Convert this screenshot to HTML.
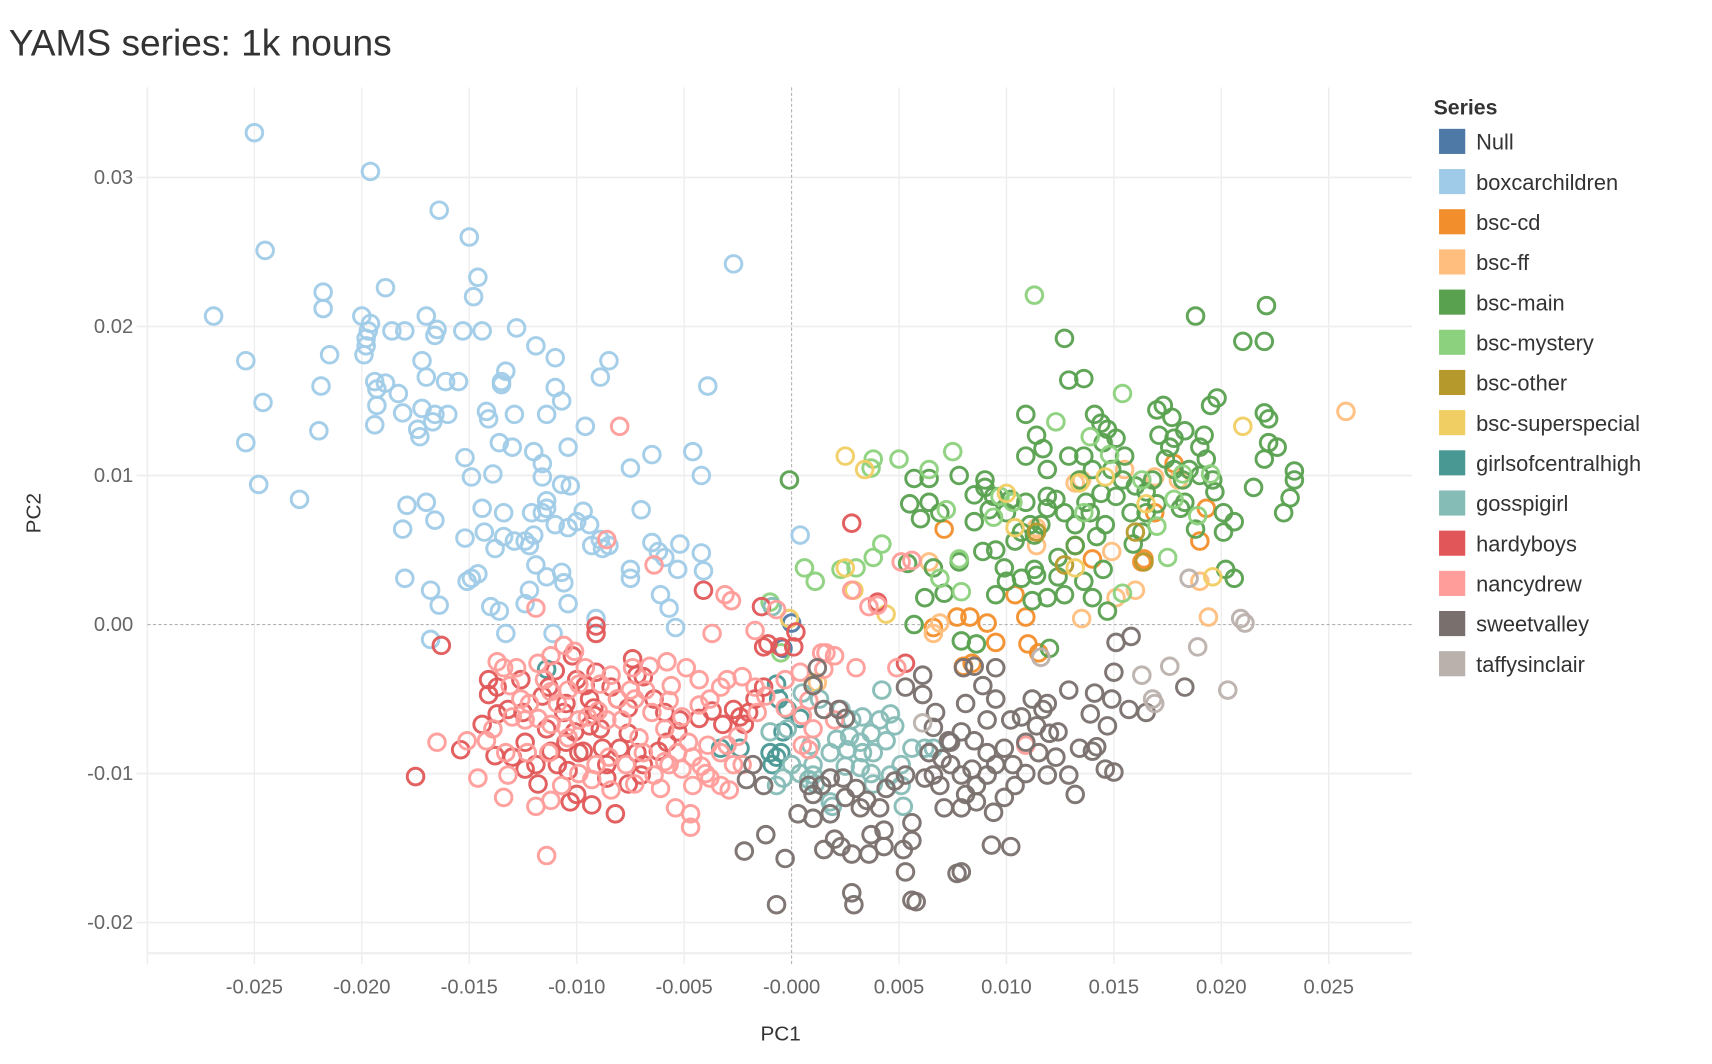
<!DOCTYPE html>
<html><head><meta charset="utf-8">
<style>
html,body{margin:0;padding:0;background:#fff;}
svg{display:block;}
text{font-family:"Liberation Sans",sans-serif;}
</style></head>
<body>
<svg id="chart" width="1712" height="1064" viewBox="0 0 1568 974.5" preserveAspectRatio="none" xmlns="http://www.w3.org/2000/svg">
<text x="8" y="51" font-size="34" fill="#333">YAMS series: 1k nouns</text>
<g id="grid"></g>
<g id="marks"></g>
<g id="axes"></g>
<text x="715" y="953" font-size="19" fill="#333" text-anchor="middle">PC1</text>
<text transform="translate(37,470) rotate(-90)" font-size="19" fill="#333" text-anchor="middle">PC2</text>
<g id="legend"></g>
</svg>
<script>
const UNIT = 1e-4;
const xTicks = [-0.025,-0.020,-0.015,-0.010,-0.005,0,0.005,0.010,0.015,0.020,0.025];
const xTickLabels = ["-0.025","-0.020","-0.015","-0.010","-0.005","-0.000","0.005","0.010","0.015","0.020","0.025"];
const yTicks = [0.03,0.02,0.01,0,-0.01,-0.02];
const yTickLabels = ["0.03","0.02","0.01","0.00","-0.01","-0.02"];
const seriesNames = ["Null","boxcarchildren","bsc-cd","bsc-ff","bsc-main","bsc-mystery","bsc-other","bsc-superspecial","girlsofcentralhigh","gosspigirl","hardyboys","nancydrew","sweetvalley","taffysinclair"];
const seriesColors = ["#4e79a7","#a0cbe8","#f28e2b","#ffbe7d","#59a14f","#8cd17d","#b6992d","#f1ce63","#499894","#86bcb6","#e15759","#ff9d9a","#79706e","#bab0ac"];

const nullPts = [[0,1],[-4,-16]];
const boxcarPts = [[-250,330],[-196,304],[-164,278],[-245,251],[-150,260],[-146,233],[-148,220],[-218,223],[-218,212],[-189,226],[-269,207],[-200,207],[-196,202],[-197,197],[-198,192],[-198,187],[-186,197],[-180,197],[-170,207],[-165,198],[-166,194],[-153,197],[-144,197],[-128,199],[-119,187],[-254,177],[-246,149],[-254,122],[-248,94],[-229,84],[-220,130],[-219,160],[-215,181],[-199,181],[-194,163],[-193,158],[-189,162],[-193,147],[-194,134],[-183,155],[-181,142],[-174,131],[-172,145],[-172,177],[-170,166],[-173,126],[-166,141],[-167,136],[-161,163],[-155,163],[-160,141],[-142,143],[-141,138],[-135,163],[-133,170],[-135,161],[-129,141],[-152,112],[-149,99],[-139,101],[-136,122],[-130,119],[-120,116],[-116,108],[-116,99],[-114,83],[-110,179],[-110,159],[-107,150],[-114,141],[-104,119],[-96,133],[-89,166],[-85,177],[-75,105],[-65,114],[-42,100],[-46,116],[-39,160],[-27,242],[4,60],[-179,80],[-170,82],[-181,64],[-166,70],[-180,31],[-168,23],[-164,13],[-168,-10],[-152,58],[-151,29],[-144,78],[-143,62],[-138,51],[-134,59],[-129,56],[-124,56],[-120,60],[-122,53],[-119,40],[-114,32],[-107,35],[-106,28],[-104,14],[-93,53],[-89,57],[-88,51],[-100,69],[-97,76],[-94,67],[-85,53],[-75,37],[-75,31],[-70,77],[-65,55],[-62,49],[-59,45],[-52,54],[-61,20],[-57,11],[-54,-2],[-42,48],[-41,36],[-103,93],[-107,94],[-114,78],[-110,67],[-121,75],[-134,75],[-140,12],[-136,9],[-124,14],[-122,23],[-111,-6],[-133,-6],[-116,75],[-104,65],[-91,4],[-149,31],[-146,34],[-53,37]];
const bscCdPts = [[71,64],[77,5],[83,5],[91,1],[80,-28],[84,-26],[95,-12],[104,20],[109,5],[110,-13],[115,-19],[132,53],[140,44],[164,44],[163,42],[190,56],[193,78],[178,108],[169,75],[66,-2]];
const bscFfPts = [[258,143],[194,5],[190,29],[160,23],[151,18],[135,4],[132,95],[149,49],[155,104],[114,53],[169,99],[64,42],[69,1],[66,-6],[114,65],[135,97],[180,97],[12,-39]];
const bscMainPts = [[-1,97],[57,98],[64,98],[55,81],[64,82],[60,71],[69,75],[78,100],[85,69],[78,42],[66,38],[54,41],[62,18],[71,21],[85,87],[90,97],[90,92],[94,86],[92,77],[89,49],[95,50],[95,20],[100,29],[104,56],[107,62],[109,113],[109,141],[114,127],[117,118],[119,104],[119,86],[119,78],[116,67],[113,60],[113,37],[114,33],[112,16],[119,18],[124,32],[127,20],[124,45],[132,53],[132,67],[127,75],[123,84],[129,113],[136,113],[137,82],[139,75],[141,141],[144,135],[147,131],[145,122],[151,125],[155,113],[154,97],[151,86],[160,93],[165,89],[168,97],[171,127],[170,144],[173,147],[176,119],[178,104],[182,97],[181,78],[185,104],[190,100],[193,111],[196,97],[198,152],[195,147],[192,127],[190,119],[206,69],[201,62],[202,37],[206,31],[215,92],[220,111],[222,122],[222,138],[220,142],[229,75],[234,97],[234,103],[232,85],[226,119],[220,190],[221,214],[188,207],[210,190],[127,192],[129,164],[136,165],[159,54],[163,62],[165,75],[170,81],[158,75],[146,67],[142,59],[145,37],[136,29],[140,18],[147,9],[120,-16],[86,-13],[79,-11],[57,0],[100,75],[102,84],[109,82],[111,67],[99,38],[107,31],[134,97],[140,104],[144,88],[149,104],[183,130],[174,111],[177,139],[178,125],[188,64],[183,82],[197,89],[201,75]];
const bscMysteryPts = [[113,221],[154,155],[38,111],[37,105],[50,111],[42,54],[38,45],[23,37],[30,38],[6,38],[11,29],[-10,15],[-5,-19],[64,104],[72,77],[75,116],[94,72],[103,82],[97,86],[78,44],[69,31],[79,22],[139,126],[148,114],[170,66],[178,84],[182,101],[123,136],[136,75],[175,45],[195,101],[154,21],[163,97],[189,73]];
const bscOtherPts = [[160,62],[164,42],[114,62],[127,40]];
const bscSuperPts = [[25,113],[34,104],[25,38],[29,23],[44,7],[-1,4],[10,-39],[210,133],[146,99],[134,95],[100,88],[104,65],[196,32],[132,38],[165,81]];
const gochPts = [[-114,-30],[-7,-40],[-6,-50],[-2,-57],[4,-63],[-4,-72],[-5,-86],[-7,-89],[-10,-86],[-24,-83],[-33,-83],[-9,-94]];
const gossPts = [[5,-46],[13,-50],[23,-57],[28,-64],[33,-62],[41,-64],[42,-44],[46,-60],[48,-68],[44,-78],[37,-73],[33,-86],[26,-84],[25,-95],[32,-96],[37,-100],[38,-107],[46,-101],[51,-108],[52,-122],[56,-83],[62,-83],[66,-83],[18,-119],[19,-122],[8,-104],[4,-100],[10,-94],[10,-101],[11,-107],[21,-77],[27,-75],[18,-86],[-2,-70],[-10,-72],[0,-94],[-4,-103],[-7,-108],[38,-86],[32,-79],[-9,12],[9,-81],[51,-94]];
const hardyPts = [[-163,-14],[-175,-102],[-154,-84],[-141,-47],[-141,-37],[-126,-37],[-132,-57],[-125,-59],[-116,-48],[-113,-42],[-105,-53],[-100,-37],[-96,-41],[-94,-50],[-92,-61],[-94,-68],[-101,-72],[-105,-79],[-112,-85],[-109,-94],[-104,-98],[-100,-114],[-93,-121],[-103,-119],[-82,-127],[-89,-70],[-88,-83],[-86,-94],[-80,-83],[-76,-73],[-72,-86],[-69,-94],[-62,-85],[-58,-79],[-53,-72],[-52,-64],[-43,-63],[-24,-62],[-22,-67],[-20,-59],[-17,-50],[-13,-42],[-13,-15],[-5,-15],[1,-15],[2,-5],[-14,12],[-41,23],[-91,-1],[-91,-6],[-91,-32],[-69,-35],[-64,-50],[-59,-59],[-130,-89],[-119,-94],[-138,-88],[-124,-79],[-137,-60],[-102,-21],[-81,-50],[-76,-56],[-84,-42],[-92,-56],[28,68],[40,15],[53,-26],[-37,-58],[-11,-13],[-32,-67],[-27,-57],[-74,-23],[-72,-34],[-110,-31],[-106,-59],[-137,-42],[-144,-67],[-114,-70],[-97,-85],[-86,-103],[-76,-107],[-118,-107],[-124,-97],[-70,-101],[-99,-86]];
const nancyPts = [[-80,133],[-86,57],[-64,40],[-31,20],[-28,16],[-17,-4],[-7,10],[16,-19],[20,-21],[30,-29],[49,-29],[36,12],[28,23],[40,13],[-37,-6],[-119,11],[-151,-78],[-165,-79],[-137,-25],[-134,-29],[-128,-29],[-118,-26],[-112,-21],[-106,-14],[-101,-18],[-96,-29],[-84,-34],[-74,-29],[-66,-28],[-58,-25],[-49,-29],[-43,-37],[-33,-42],[-30,-37],[-23,-35],[-17,-42],[-3,-37],[4,-32],[14,-19],[15,-30],[8,-51],[5,-61],[5,-81],[8,-84],[10,-70],[20,-64],[22,-57],[109,-81],[51,42],[56,43],[-146,-103],[-134,-116],[-132,-101],[-119,-122],[-112,-118],[-107,-108],[-114,-155],[-93,-104],[-84,-111],[-73,-107],[-64,-101],[-54,-123],[-47,-127],[-47,-136],[-61,-110],[-57,-94],[-51,-97],[-42,-95],[-38,-103],[-33,-108],[-29,-111],[-27,-94],[-30,-81],[-39,-81],[-48,-79],[-53,-86],[-59,-92],[-69,-86],[-71,-76],[-79,-64],[-86,-64],[-90,-58],[-99,-64],[-105,-69],[-112,-67],[-118,-63],[-124,-64],[-130,-62],[-139,-70],[-142,-78],[-133,-86],[-123,-86],[-113,-86],[-109,-53],[-104,-44],[-115,-37],[-122,-53],[-65,-59],[-57,-51],[-51,-62],[-43,-54],[-38,-50],[-68,-44],[-75,-44],[-81,-50],[-89,-40],[-99,-40],[-112,-45],[-126,-50],[-131,-41],[-56,-41],[-12,-48],[-3,-56],[-16,-59],[-25,-75],[-33,-86],[-40,-100],[-46,-108],[-85,-89],[-91,-94],[-99,-100],[-104,-76],[-95,-62],[-77,-94],[-73,-50],[-59,-70],[-23,-94],[-46,-89]];
const sweetPts = [[12,-29],[10,-41],[15,-57],[22,-57],[25,-63],[53,-42],[61,-34],[61,-47],[67,-59],[66,-69],[80,-29],[85,-28],[95,-29],[89,-41],[81,-53],[95,-50],[91,-64],[102,-64],[107,-62],[117,-57],[119,-53],[129,-44],[139,-60],[141,-46],[149,-50],[150,-32],[151,-12],[158,-8],[147,-68],[142,-82],[146,-97],[150,-99],[129,-101],[123,-89],[120,-73],[114,-68],[109,-79],[103,-94],[99,-83],[95,-94],[91,-101],[86,-108],[81,-114],[79,-101],[74,-79],[79,-72],[85,-78],[91,-86],[86,-119],[79,-123],[71,-123],[69,-108],[62,-103],[53,-101],[48,-105],[44,-110],[41,-123],[43,-138],[43,-149],[37,-141],[35,-118],[30,-110],[24,-103],[18,-103],[14,-108],[10,-114],[18,-127],[10,-130],[15,-151],[23,-149],[28,-154],[36,-154],[52,-151],[56,-133],[53,-166],[28,-180],[29,-188],[56,-185],[58,-186],[77,-167],[79,-166],[-3,-157],[-7,-188],[-12,-141],[-22,-152],[-21,-104],[-18,-94],[-13,-108],[3,-127],[8,-108],[20,-144],[25,-116],[32,-123],[56,-145],[73,-78],[84,-97],[94,-126],[93,-148],[102,-149],[99,-116],[104,-108],[109,-100],[115,-86],[119,-101],[132,-114],[134,-83],[124,-72],[157,-57],[165,-59],[183,-42],[140,-85],[112,-50],[74,-94],[66,-101],[64,-86],[70,-90]];
const taffyPts = [[61,-66],[163,-34],[168,-50],[169,-53],[176,-28],[185,31],[189,-15],[203,-44],[209,4],[211,1],[116,-22]];
const seriesPoints = [nullPts,boxcarPts,bscCdPts,bscFfPts,bscMainPts,bscMysteryPts,bscOtherPts,bscSuperPts,gochPts,gossPts,hardyPts,nancyPts,sweetPts,taffyPts];

const NS = "http://www.w3.org/2000/svg";
const PLOT = {left:135, right:1293, top:80, bottom:873};
function xScale(v){ return 725 + v*19680; }
function yScale(v){ return 572 - v*13650; }
function mk(tag, attrs, parent){ const e=document.createElementNS(NS,tag); for(const k in attrs) e.setAttribute(k,attrs[k]); parent.appendChild(e); return e; }

const grid=document.getElementById('grid'), axes=document.getElementById('axes'), marks=document.getElementById('marks'), legend=document.getElementById('legend');
let gl=mk('line',{x1:PLOT.left,x2:PLOT.left,y1:PLOT.top,y2:PLOT.bottom+10,stroke:'#eeeeee','stroke-width':1.5},grid);
 
gl=mk('line',{x1:PLOT.left,x2:PLOT.right,y1:PLOT.bottom,y2:PLOT.bottom,stroke:'#eeeeee','stroke-width':2},grid);
 
xTicks.forEach((t,i)=>{
  const x=xScale(t);
  if(t!==0){
    const l=mk('line',{x1:x,x2:x,y1:PLOT.top,y2:PLOT.bottom+10,stroke:'#eeeeee','stroke-width':1.3},grid);
     
  }
  const tx=mk('text',{x:x,y:910,'font-size':18.5,fill:'#666','text-anchor':'middle'},axes);
  tx.textContent=xTickLabels[i];
   
});
yTicks.forEach((t,i)=>{
  const y=yScale(t);
  if(t!==0){
    const l=mk('line',{x1:PLOT.left-10,x2:PLOT.right,y1:y,y2:y,stroke:'#eeeeee','stroke-width':1.5},grid);
     
  }
  const tx=mk('text',{x:122,y:y+6,'font-size':18.5,fill:'#666','text-anchor':'end'},axes);
  tx.textContent=yTickLabels[i];
   
});
let z=mk('line',{x1:xScale(0),x2:xScale(0),y1:PLOT.top,y2:PLOT.bottom+10,stroke:'#b5b5b5','stroke-width':1,'stroke-dasharray':'3,2'},grid);
 
z=mk('line',{x1:PLOT.left,x2:PLOT.right,y1:yScale(0),y2:yScale(0),stroke:'#b5b5b5','stroke-width':1,'stroke-dasharray':'3,2'},grid);
 

seriesPoints.forEach((pts,si)=>{
  const g=mk('g',{},marks);
  
  
  pts.forEach(p=>{
    const c=mk('circle',{cx:xScale(p[0]*UNIT),cy:yScale(p[1]*UNIT),r:7.6,fill:'none',stroke:seriesColors[si],'stroke-width':2.7,'stroke-opacity':0.95},g);
    
    
  });
});

const lt=mk('text',{x:1313,y:105,'font-size':19.5,'font-weight':'bold',fill:'#333'},legend);
lt.textContent='Series';
 
seriesNames.forEach((n,i)=>{
  const y=118+i*36.8;
  const g=mk('g',{},legend);
  
  
  const r=mk('rect',{x:1318,y:y,width:24,height:23,fill:seriesColors[i]},g);
   
  const t=mk('text',{x:1352,y:y+19,'font-size':20,fill:'#333'},g);
  t.textContent=n;
   
});
</script>
</body></html>
